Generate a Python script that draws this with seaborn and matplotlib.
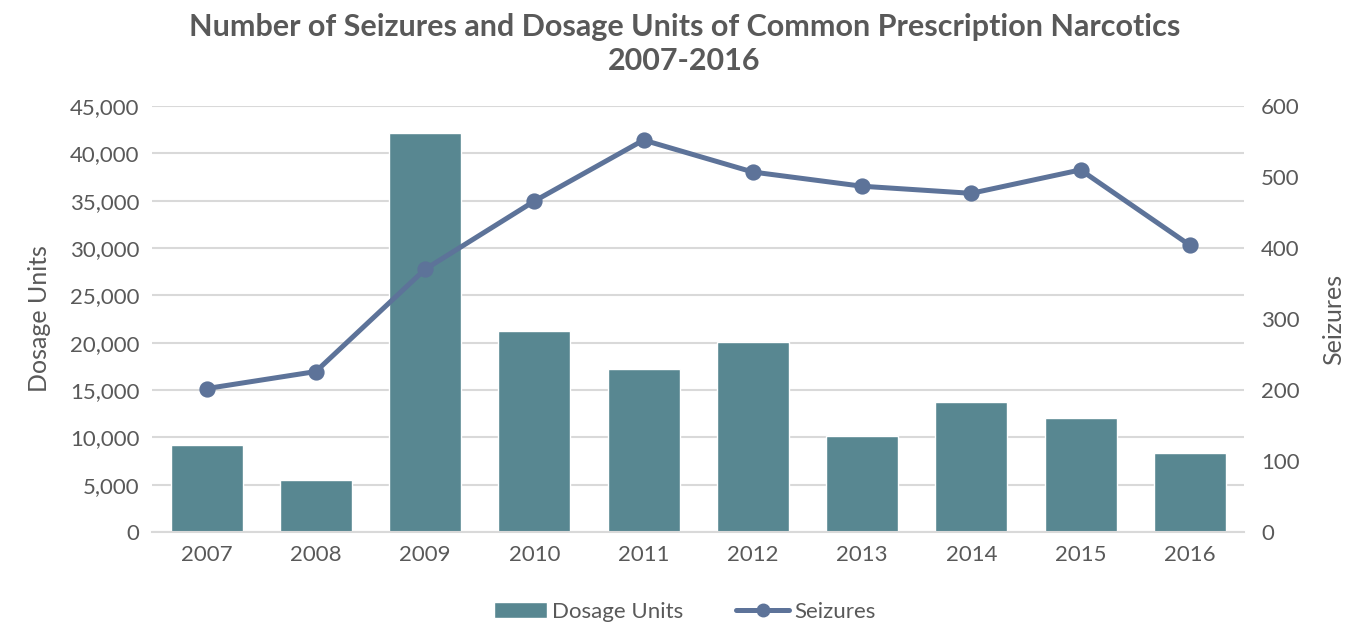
import matplotlib
matplotlib.use('Agg')
import matplotlib.pyplot as plt
import matplotlib.ticker as mticker
from matplotlib.lines import Line2D
from matplotlib.patches import Patch
import numpy as np
import pandas as pd
import seaborn as sns

years = ['2007', '2008', '2009', '2010', '2011', '2012', '2013', '2014', '2015', '2016']
dosage_units = [9200, 5500, 42100, 21200, 17200, 20050, 10100, 13750, 12000, 8350]
seizures = [202, 226, 370, 466, 552, 507, 487, 477, 510, 404]

BAR_COLOR = '#588791'
LINE_COLOR = '#5d7399'
TEXT_COLOR = '#595959'
GRID_COLOR = '#d9d9d9'

sns.set_theme(style='white')
plt.rcParams['font.family'] = ['Lato', 'DejaVu Sans']
plt.rcParams['text.color'] = TEXT_COLOR
plt.rcParams['axes.labelcolor'] = TEXT_COLOR
plt.rcParams['xtick.color'] = TEXT_COLOR
plt.rcParams['ytick.color'] = TEXT_COLOR

df = pd.DataFrame({'year': years, 'dosage': dosage_units, 'seizures': seizures})

fig = plt.figure(figsize=(13.69, 6.29), dpi=100)
ax = fig.add_axes([0.111, 0.1542, 0.798, 0.6773])

sns.barplot(data=df, x='year', y='dosage', color=BAR_COLOR, width=0.66,
            saturation=1, ax=ax, zorder=2)
ax.set_ylim(0, 45000)
ax.yaxis.set_major_locator(mticker.MultipleLocator(5000))
ax.yaxis.set_major_formatter(mticker.FuncFormatter(lambda v, p: f'{int(v):,}'))
ax.grid(axis='y', color=GRID_COLOR, linewidth=1.5, zorder=0)
ax.set_axisbelow(True)
for s in ['top', 'right', 'left']:
    ax.spines[s].set_visible(False)
ax.spines['bottom'].set_color(GRID_COLOR)
ax.spines['bottom'].set_linewidth(1.5)
ax.tick_params(axis='both', length=0, labelsize=16, pad=9)
ax.set_xlabel('')
ax.set_ylabel('Dosage Units', fontsize=18, labelpad=14)

ax2 = ax.twinx()
sns.pointplot(data=df, x='year', y='seizures', color=LINE_COLOR, markers='o',
              markersize=9, linewidth=3.6, ax=ax2)
ax2.set_ylim(0, 600)
ax2.yaxis.set_major_locator(mticker.MultipleLocator(100))
for s in ['top', 'right', 'left', 'bottom']:
    ax2.spines[s].set_visible(False)
ax2.tick_params(axis='y', length=0, labelsize=16, pad=12)
ax2.set_xlabel('')
ax2.set_ylabel('Seizures', fontsize=18, labelpad=16)
ax.set_xlim(-0.5, len(years) - 0.5)
ax2.set_xlim(-0.5, len(years) - 0.5)

fig.suptitle('Number of Seizures and Dosage Units of Common Prescription Narcotics\n2007-2016',
             fontsize=22, fontweight='bold', color=TEXT_COLOR, y=0.98, linespacing=1.3)

handles = [Patch(facecolor=BAR_COLOR, label='Dosage Units'),
           Line2D([0], [0], color=LINE_COLOR, linewidth=3.6, marker='o', markersize=9,
                  label='Seizures')]
fig.legend(handles=handles, loc='lower center', ncol=2, frameon=False, fontsize=16,
           bbox_to_anchor=(0.5, -0.02), handlelength=2.4, handletextpad=0.2,
           columnspacing=2.4)

fig.savefig('out.png', dpi=100)
